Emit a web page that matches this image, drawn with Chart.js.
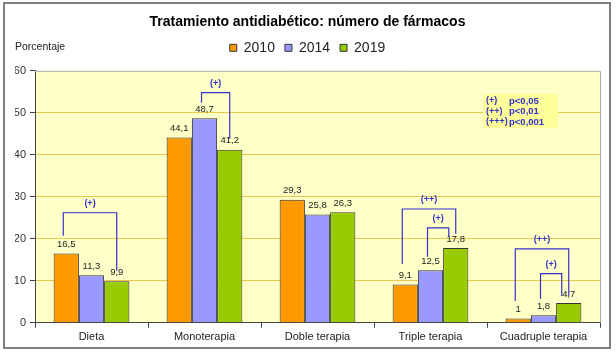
<!DOCTYPE html>
<html>
<head>
<meta charset="utf-8">
<script src="https://cdn.jsdelivr.net/npm/chart.js@4/dist/chart.umd.min.js"></script>
<style>
  body { margin: 0; background: #fff; }
  #wrap { width: 616px; height: 352px; }
</style>
</head>
<body>
<div id="wrap"><canvas id="grafico" width="616" height="352"></canvas></div>
<script>
// Datos del gráfico
const categorias = ['Dieta', 'Monoterapia', 'Doble terapia', 'Triple terapia', 'Cuadruple terapia'];
const anios = ['2010', '2014', '2019'];
const valores2010 = [16.5, 44.1, 29.3, 9.1, 1];
const valores2014 = [11.3, 48.7, 25.8, 12.5, 1.8];
const valores2019 = [9.9, 41.2, 26.3, 17.8, 4.7];
const colores = ['#FF9900', '#9999FF', '#99CC00'];

// Llaves de significación (categoría, serie inicial, serie final, altura y extremos en %)
const llaveCat = [0, 1, 3, 3, 4, 4];
const llaveDesde = [0, 1, 0, 1, 0, 1];
const llaveHasta = [2, 2, 2, 2, 2, 2];
const llaveAltura = [26.2, 54.8, 27.1, 22.6, 17.6, 11.7];
const llaveFinIzq = [20.7, 52.4, 14.0, 15.7, 5.2, 5.7];
const llaveFinDer = [12.4, 43.8, 21.2, 20.5, 6.4, 6.4];
const llaveTexto = ['(+)', '(+)', '(++)', '(+)', '(++)', '(+)'];

const notaSimbolos = ['(+)', '(++)', '(+++)'];
const notaTextos = ['p<0,05', 'p<0,01', 'p<0,001'];

const fuente = '"Liberation Sans", Arial, sans-serif';
const azul = '#3333CC';

function formatear(v) {
  return String(v).replace('.', ',');
}

const extras = {
  id: 'extras',
  beforeInit(chart) {
    // un poco más de aire entre la leyenda y el gráfico
    const fitOriginal = chart.legend.fit;
    chart.legend.fit = function() {
      fitOriginal.call(this);
      this.height += 6;
    };
  },
  beforeDraw(chart) {
    const ctx = chart.ctx;
    const a = chart.chartArea;
    ctx.save();
    ctx.fillStyle = '#FFFFC8';
    ctx.fillRect(a.left, a.top, a.right - a.left, a.bottom - a.top);
    ctx.restore();
  },
  afterDatasetsDraw(chart) {
    const ctx = chart.ctx;
    const a = chart.chartArea;
    const y = chart.scales.y;
    ctx.save();

    // etiquetas de valor encima de cada barra
    ctx.font = '9.5px ' + fuente;
    ctx.fillStyle = '#222';
    ctx.textAlign = 'center';
    ctx.textBaseline = 'middle';
    chart.data.datasets.forEach(function(ds, i) {
      chart.getDatasetMeta(i).data.forEach(function(bar, j) {
        ctx.fillText(formatear(ds.data[j]), bar.x, bar.y - 9);
      });
    });

    // llaves
    ctx.strokeStyle = azul;
    ctx.lineWidth = 1.2;
    ctx.font = 'bold 9px ' + fuente;
    ctx.fillStyle = azul;
    for (let k = 0; k < llaveCat.length; k++) {
      const c = llaveCat[k];
      const izq = chart.getDatasetMeta(llaveDesde[k]).data[c].x - 3;
      // si hay otra llave más alta que acaba en la misma barra, esta va por dentro
      let interior = false;
      for (let m = 0; m < llaveCat.length; m++) {
        if (m !== k && llaveCat[m] === c && llaveHasta[m] === llaveHasta[k] && llaveAltura[m] > llaveAltura[k]) interior = true;
      }
      const der = chart.getDatasetMeta(llaveHasta[k]).data[c].x + (interior ? -7 : 0);
      const top = y.getPixelForValue(llaveAltura[k]);
      ctx.beginPath();
      ctx.moveTo(izq, y.getPixelForValue(llaveFinIzq[k]));
      ctx.lineTo(izq, top);
      ctx.lineTo(der, top);
      ctx.lineTo(der, y.getPixelForValue(llaveFinDer[k]));
      ctx.stroke();
      ctx.fillText(llaveTexto[k], (izq + der) / 2, top - 9);
    }

    // recuadro con los niveles de significación
    const bx = a.right - 117, by = y.getPixelForValue(54.5);
    ctx.fillStyle = '#FFFF99';
    ctx.fillRect(bx, by, 75, 34);
    ctx.fillStyle = azul;
    ctx.textAlign = 'left';
    notaSimbolos.forEach(function(s, i) {
      ctx.font = 'bold 9px ' + fuente;
      ctx.fillText(s, bx + 3, by + 7 + i * 10.5);
      ctx.font = 'bold 9.5px ' + fuente;
      ctx.fillText(notaTextos[i], bx + 26, by + 7 + i * 10.5);
    });
    ctx.restore();
  },
  afterDraw(chart) {
    const ctx = chart.ctx;
    const a = chart.chartArea;
    ctx.save();
    // borde gris superior y derecho del área
    ctx.strokeStyle = '#AAAAAA';
    ctx.lineWidth = 1;
    ctx.beginPath();
    ctx.moveTo(a.left, a.top + 0.5);
    ctx.lineTo(a.right + 0.5, a.top + 0.5);
    ctx.lineTo(a.right + 0.5, a.bottom);
    ctx.stroke();

    // rótulo del eje
    ctx.font = '10.5px ' + fuente;
    ctx.fillStyle = '#222';
    ctx.textBaseline = 'middle';
    ctx.fillText('Porcentaje', 15, 47);

    // marco exterior
    ctx.strokeStyle = '#808080';
    ctx.lineWidth = 2;
    ctx.strokeRect(4, 3, 606, 345);
    ctx.restore();
  }
};

new Chart(document.getElementById('grafico'), {
  type: 'bar',
  data: {
    labels: categorias,
    datasets: [
      { label: anios[0], data: valores2010, backgroundColor: colores[0] },
      { label: anios[1], data: valores2014, backgroundColor: colores[1] },
      { label: anios[2], data: valores2019, backgroundColor: colores[2] }
    ].map(function(ds) {
      ds.borderColor = '#333';
      ds.borderWidth = 1;
      ds.barPercentage = 1.0;
      ds.categoryPercentage = 0.67;
      return ds;
    })
  },
  options: {
    responsive: false,
    animation: false,
    layout: { padding: { left: 15, right: 16, top: 0, bottom: 5 } },
    plugins: {
      title: {
        display: true,
        text: 'Tratamiento antidiabético: número de fármacos',
        color: '#000',
        font: { family: fuente, size: 14, weight: 'bold' },
        padding: { top: 14, bottom: 0 }
      },
      legend: {
        display: true,
        labels: {
          color: '#222',
          font: { family: fuente, size: 14 },
          boxWidth: 7,
          boxHeight: 7,
          padding: 10
        }
      },
      tooltip: { enabled: false }
    },
    scales: {
      x: {
        grid: { display: true, drawOnChartArea: false, tickLength: 5, tickColor: '#444', offset: true },
        border: { color: '#444' },
        ticks: { color: '#222', font: { family: fuente, size: 11 }, padding: 3 }
      },
      y: {
        min: 0,
        max: 60,
        ticks: { stepSize: 10, color: '#333', font: { family: fuente, size: 11 }, padding: 4 },
        grid: {
          color: function(c) { return c.tick && c.tick.value === 60 ? 'rgba(0,0,0,0)' : '#E8C84E'; },
          tickColor: '#444',
          tickLength: 5
        },
        border: { color: '#444' },
        afterFit: function(s) { s.width = 20; }
      }
    }
  },
  plugins: [extras]
});
</script>
</body>
</html>
